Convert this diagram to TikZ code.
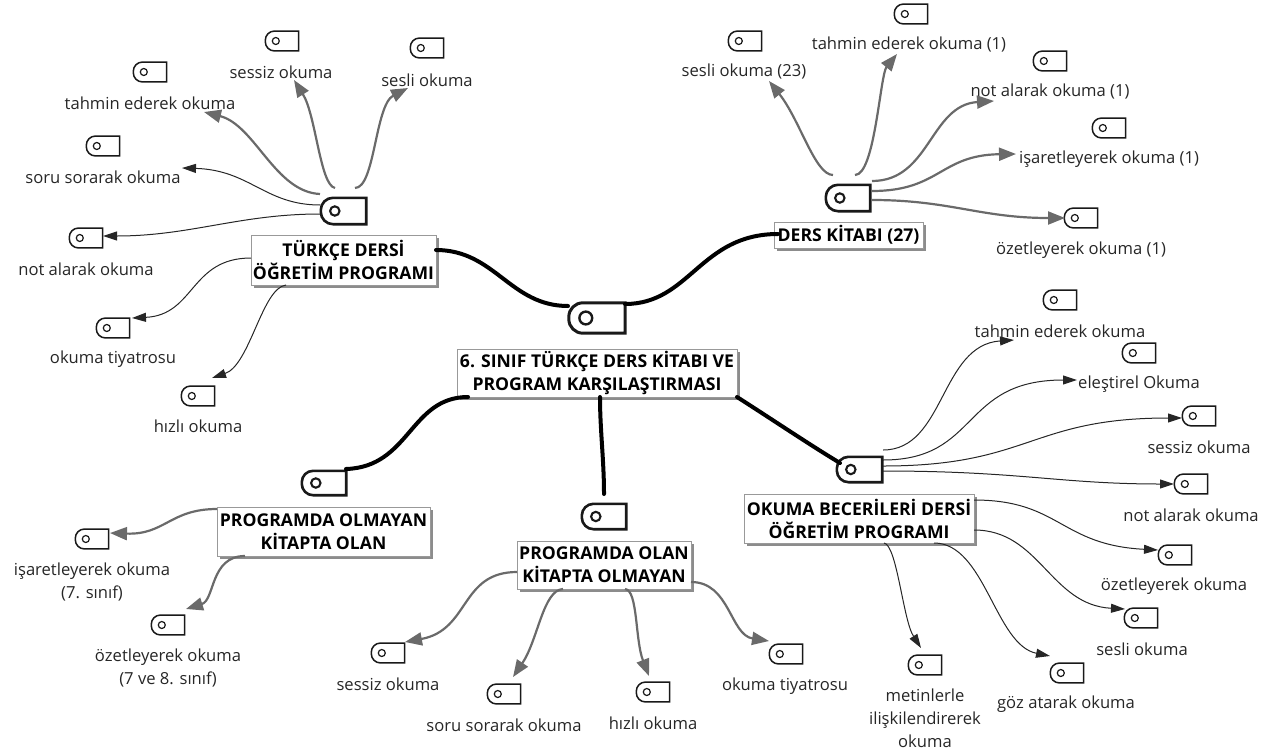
\documentclass[tikz,border=0pt]{standalone}
\usepackage{fontspec}
\setmainfont{Open Sans}
\usetikzlibrary{arrows.meta,shadows}
\definecolor{txt}{HTML}{262626}
\definecolor{grayline}{HTML}{6A6A6A}
\tikzset{
  lbl/.style={align=center,inner sep=0pt,text=txt,yshift=-1pt,font=\fontsize{16.6}{23}\selectfont},
  topic/.style={draw=black!40,line width=1pt,fill=white,inner sep=0pt,align=center,
    font=\fontsize{17.6}{23}\selectfont\bfseries,text=black,
    drop shadow={shadow xshift=3pt,shadow yshift=-3pt,fill=black!45,opacity=1}},
  mainlink/.style={draw=black,line width=4pt,line cap=round},
  graylink/.style={draw=grayline,line width=2.2pt,-{Triangle[length=17pt,width=13pt]}},
  blacklink/.style={draw=black!85,line width=1pt,-{Triangle[length=14pt,width=9pt]}},
  tagbody/.style={inner sep=0pt,minimum width=#1},
}
% \tagicon{name}{x,y}{w}{h}{line width}{circle offset}{circle radius}
\newcommand{\tagicon}[7]{%
  \node[tagbody=#3pt,minimum height=#4pt] (#1) at (#2) {};
  \draw[line width=#5pt,black!90,line join=miter]
    (#1.north east) -- (#1.south east)
    {[rounded corners=#4*0.47pt] -- (#1.south west) -- (#1.north west)} -- cycle;
  \draw[line width=#5*0.8pt,black!90] ([xshift=#6pt]#1.west) circle[radius=#7pt];
}
\newcommand{\smalltag}[2]{\tagicon{#1}{#2}{33}{19.5}{1.5}{10.5}{3.5}}
\newcommand{\conn}[7]{%
  \draw[#1] ([shift={(#3)}]#2.center) .. controls (#4) and (#5) .. ([shift={(#7)}]#6.center);
}
\begin{document}
\begin{tikzpicture}[x=1pt,y=-1pt]
\useasboundingbox (0,0) rectangle (1268,755);
% topic boxes
\node[topic,minimum width=185pt,minimum height=50pt] (bT) at (343.5,260) {TÜRKÇE DERSİ\\ÖĞRETİM PROGRAMI};
\node[topic,minimum width=280pt,minimum height=48pt] (bM) at (597,373) {6. SINIF TÜRKÇE DERS KİTABI VE\\PROGRAM KARŞILAŞTIRMASI};
\node[topic,minimum width=149pt,minimum height=26pt] (bD) at (848.5,235) {DERS KİTABI (27)};
\node[topic,minimum width=230pt,minimum height=49pt] (bO) at (859,518.5) {OKUMA BECERİLERİ DERSİ\\ÖĞRETİM PROGRAMI};
\node[topic,minimum width=174pt,minimum height=48pt] (bL) at (604,565) {PROGRAMDA OLAN\\KİTAPTA OLMAYAN};
\node[topic,minimum width=213pt,minimum height=49pt] (bY) at (323.5,531.5) {PROGRAMDA OLMAYAN\\KİTAPTA OLAN};
% large icons
\tagicon{iM}{597,318}{56}{30}{3}{17}{6.4}
\tagicon{iT}{343.5,211}{45}{26}{2.6}{14}{4.7}
\tagicon{iD}{848,198}{44}{26}{2.6}{14}{4.7}
\tagicon{iO}{859.5,469.5}{45}{25}{2.6}{14}{4.7}
\tagicon{iL}{604,516.5}{44}{25}{2.6}{14}{4.7}
\tagicon{iY}{324,483}{44}{24}{2.6}{14}{4.7}
% small icons
\smalltag{t1}{282,41}
\smalltag{t2}{427,48}
\smalltag{t3}{150,72}
\smalltag{t4}{103,146}
\smalltag{t5}{86,238}
\smalltag{t6}{113,328}
\smalltag{t7}{198,396}
\smalltag{d1}{745,41}
\smalltag{d2}{911,14}
\smalltag{d3}{1050,61}
\smalltag{d4}{1109,128}
\smalltag{d5}{1081,218}
\smalltag{o1}{1060,300}
\smalltag{o2}{1139,353}
\smalltag{o3}{1199,416}
\smalltag{o4}{1191,484}
\smalltag{o5}{1175,555}
\smalltag{o6}{1141,618}
\smalltag{o7}{1067,673}
\smalltag{o8}{925,665}
\smalltag{l1}{388,653}
\smalltag{l2}{504,694}
\smalltag{l3}{653,692}
\smalltag{l4}{786,654}
\smalltag{y1}{92,539}
\smalltag{y2}{168,625}
% labels
\node[lbl] (Lt1) at (281,71) {sessiz okuma};
\node[lbl] (Lt2) at (427,79) {sesli okuma};
\node[lbl] (Lt3) at (150,102) {tahmin ederek okuma};
\node[lbl] (Lt4) at (103,176) {soru sorarak okuma};
\node[lbl] (Lt5) at (86,268) {not alarak okuma};
\node[lbl] (Lt6) at (113,358) {okuma tiyatrosu};
\node[lbl] (Lt7) at (198,425) {hızlı okuma};
\node[lbl] (Ld1) at (744,71) {sesli okuma (23)};
\node[lbl] (Ld2) at (909,44) {tahmin ederek okuma (1)};
\node[lbl] (Ld3) at (1050,91) {not alarak okuma (1)};
\node[lbl] (Ld4) at (1109,158) {işaretleyerek okuma (1)};
\node[lbl] (Ld5) at (1081,249) {özetleyerek okuma (1)};
\node[lbl] (Lo1) at (1060,330) {tahmin ederek okuma};
\node[lbl] (Lo2) at (1139,383) {eleştirel Okuma};
\node[lbl] (Lo3) at (1199,446) {sessiz okuma};
\node[lbl] (Lo4) at (1191,514) {not alarak okuma};
\node[lbl] (Lo5) at (1174,585) {özetleyerek okuma};
\node[lbl] (Lo6) at (1142,648) {sesli okuma};
\node[lbl] (Lo7) at (1066,703) {göz atarak okuma};
\node[lbl] (Lo8) at (925,717) {metinlerle\\ilişkilendirerek\\okuma};
\node[lbl] (Ll1) at (388,683) {sessiz okuma};
\node[lbl] (Ll2) at (504,724) {soru sorarak okuma};
\node[lbl] (Ll3) at (653,722) {hızlı okuma};
\node[lbl] (Ll4) at (785,685) {okuma tiyatrosu};
\node[lbl] (Ly1) at (92,580.5) {işaretleyerek okuma\\(7. sınıf)};
\node[lbl] (Ly2) at (168,666.5) {özetleyerek okuma\\(7 ve 8. sınıf)};
% main branches
\conn{mainlink}{bT}{92.5,-10}{495,250}{510,306}{iM}{-29,-12}
\conn{mainlink}{iM}{28,-14}{690,304}{700,234}{bD}{-70.5,-1}
\conn{mainlink}{bM}{-129,24}{410,397}{410,467}{iY}{22,-14}
\conn{mainlink}{bM}{3,24}{600,430}{604,460}{iL}{0,-22.5}
\conn{mainlink}{bM}{140,24}{770,418}{810,445}{iO}{-19.5,-6.5}
% Turkce
\conn{graylink}{iT}{-23.5,-17}{275,192}{255,125}{Lt3}{54,9}
\conn{graylink}{iT}{-8.5,-23}{320,185}{316,115}{Lt1}{13,8}
\conn{graylink}{iT}{11.5,-23}{375,188}{375,105}{Lt2}{-19,8}
\conn{blacklink}{iT}{-23.5,-6}{265,205}{250,170}{Lt4}{79,-9}
\conn{blacklink}{iT}{-23.5,3}{240,214}{190,236}{t5}{17,-2}
\conn{blacklink}{bT}{-92.5,-2}{190,258}{195,315}{t6}{19,-10}
\conn{blacklink}{bT}{-57.5,25}{262,288}{250,365}{t7}{14,-18}
% Ders
\conn{graylink}{iD}{-15,-23}{815,175}{800,120}{Ld1}{25,9}
\conn{graylink}{iD}{7,-23}{875,175}{880,75}{Ld2}{-12,9}
\conn{graylink}{iD}{24,-17}{930,181}{930,105}{Ld3}{-56,9}
\conn{graylink}{iD}{24,-7}{940,191}{940,155}{Ld4}{-93,-5}
\conn{graylink}{iD}{24,2}{950,200}{980,218}{d5}{-16,0}
% Okuma
\conn{blacklink}{iO}{23.5,-19.5}{945,450}{940,345}{Lo1}{-46,9}
\conn{blacklink}{iO}{23.5,-9.5}{980,460}{960,380}{Lo2}{-62,-4}
\conn{blacklink}{iO}{23.5,-3.5}{1030,466}{1030,418}{o3}{-17,2}
\conn{blacklink}{iO}{23.5,1.5}{1020,471}{1060,484}{o4}{-17,0}
\conn{blacklink}{bO}{115,-18.5}{1060,500}{1060,545}{o5}{-17,-5}
\conn{blacklink}{bO}{115,11.5}{1040,530}{1050,605}{o6}{-16,-9}
\conn{blacklink}{bO}{75,24.5}{985,543}{995,645}{o7}{-17,-17}
\conn{blacklink}{bO}{25,24.5}{897,545}{903,620}{o8}{-4,-17}
% Olan
\conn{graylink}{bL}{-87,7}{460,572}{470,630}{l1}{17,-11}
\conn{graylink}{bL}{-41,24}{543,590}{538,640}{l2}{9,-17}
\conn{graylink}{bL}{21,24}{638,590}{635,640}{l3}{-4,-16}
\conn{graylink}{bL}{87,17}{730,582}{730,635}{l4}{-17,-13}
% Olmayan
\conn{graylink}{bY}{-106.5,-22.5}{170,509}{165,535}{y1}{18,-6}
\conn{graylink}{bY}{-78.5,24.5}{210,556}{215,600}{y2}{18,-16}
\end{tikzpicture}
\end{document}
